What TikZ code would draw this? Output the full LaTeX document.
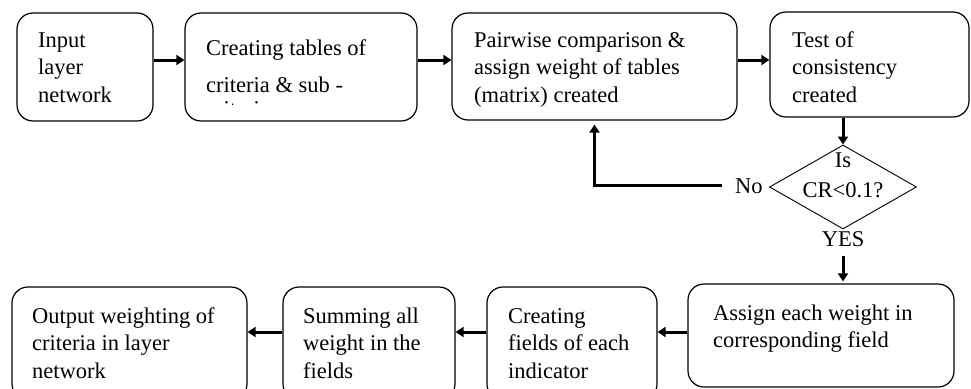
\documentclass[tikz,border=0pt]{standalone}
\usepackage{fontspec}
\setmainfont{Liberation Serif}
\usetikzlibrary{arrows.meta,shapes.geometric}
\begin{document}
\begin{tikzpicture}[x=1pt,y=-1pt,
  box/.style={draw,line width=1.2pt,rounded corners=16pt,inner sep=0pt},
  txt/.style={anchor=north west,inner sep=0pt,align=left,font=\fontsize{22.5}{27.5}\selectfont},
  lbl/.style={inner sep=0pt,font=\fontsize{22.5}{27.5}\selectfont},
  arr/.style={line width=3pt,-{Triangle[length=8pt,width=10pt]}},
  dec/.style={draw,diamond,line width=0.9pt,inner sep=0pt,aspect=1.75}]
\useasboundingbox (0,0) rectangle (971,388);
% boxes
\node[box,minimum width=136pt,minimum height=108pt] (b1) at (85,67) {};
\node[box,minimum width=232pt,minimum height=108pt] (b2) at (301,67) {};
\node[box,minimum width=285pt,minimum height=107pt] (b3) at (594.5,66.5) {};
\node[box,minimum width=199pt,minimum height=105pt] (b4) at (869.5,64.5) {};
\node[box,minimum width=266pt,minimum height=103pt] (b5) at (821,335.5) {};
\node[box,minimum width=170pt,minimum height=113pt] (b6) at (572,343.5) {};
\node[box,minimum width=172pt,minimum height=113pt] (b7) at (369,343.5) {};
\node[box,minimum width=235pt,minimum height=113pt] (b8) at (129.5,343.5) {};
\node[dec,minimum width=147pt,minimum height=84pt] (d) at (843,187) {};
% texts
\node[txt] (t1) at (38,27.75) {\strut Input\\layer\\network};
\node[txt] (t2) at (206,35.75) {\strut Creating tables of\\[9.5pt]criteria \& sub -};
\begin{scope}
  \clip (185,13) rectangle (417,104.5);
  \node[txt] (t2c) at (206,97.25) {\strut criteria};
\end{scope}
\node[txt] (t3) at (474,27.75) {\strut Pairwise comparison \&\\assign weight of tables\\(matrix) created};
\node[txt] (t4) at (792,27.75) {\strut Test of\\consistency\\created};
\node[txt] (t5) at (713,300.75) {\strut Assign each weight in\\corresponding field};
\node[txt] (t6) at (508,303.75) {\strut Creating\\fields of each\\indicator};
\node[txt] (t7) at (303,303.75) {\strut Summing all\\weight in the\\fields};
\node[txt] (t8) at (32,303.75) {\strut Output weighting of\\criteria in layer\\network};
\node[txt,anchor=north,align=center] (td) at (843,147.75) {\strut Is\\[2.5pt]CR<0.1?};
\node[lbl,anchor=base west] (no) at (735,193) {No};
\node[lbl,anchor=base] (yes) at (843,246) {YES};
% row coordinates
\coordinate (yt) at (0,60);
\coordinate (yb) at (0,332);
% connectors
\draw[arr] (b1.east |- yt) -- (b2.west |- yt);
\draw[arr] (b2.east |- yt) -- (b3.west |- yt);
\draw[arr] (b3.east |- yt) -- (b4.west |- yt);
\draw[arr] (d.north |- b4.south) -- (d.north);
\draw[arr,shorten >=4pt] ([xshift=-13pt]no.west) -| (b3.south);
\draw[arr,shorten >=2pt] ([yshift=-10pt]yes.base) -- (yes.base |- b5.north);
\draw[arr] (b5.west |- yb) -- (b6.east |- yb);
\draw[arr] (b6.west |- yb) -- (b7.east |- yb);
\draw[arr] (b7.west |- yb) -- (b8.east |- yb);
\end{tikzpicture}
\end{document}
